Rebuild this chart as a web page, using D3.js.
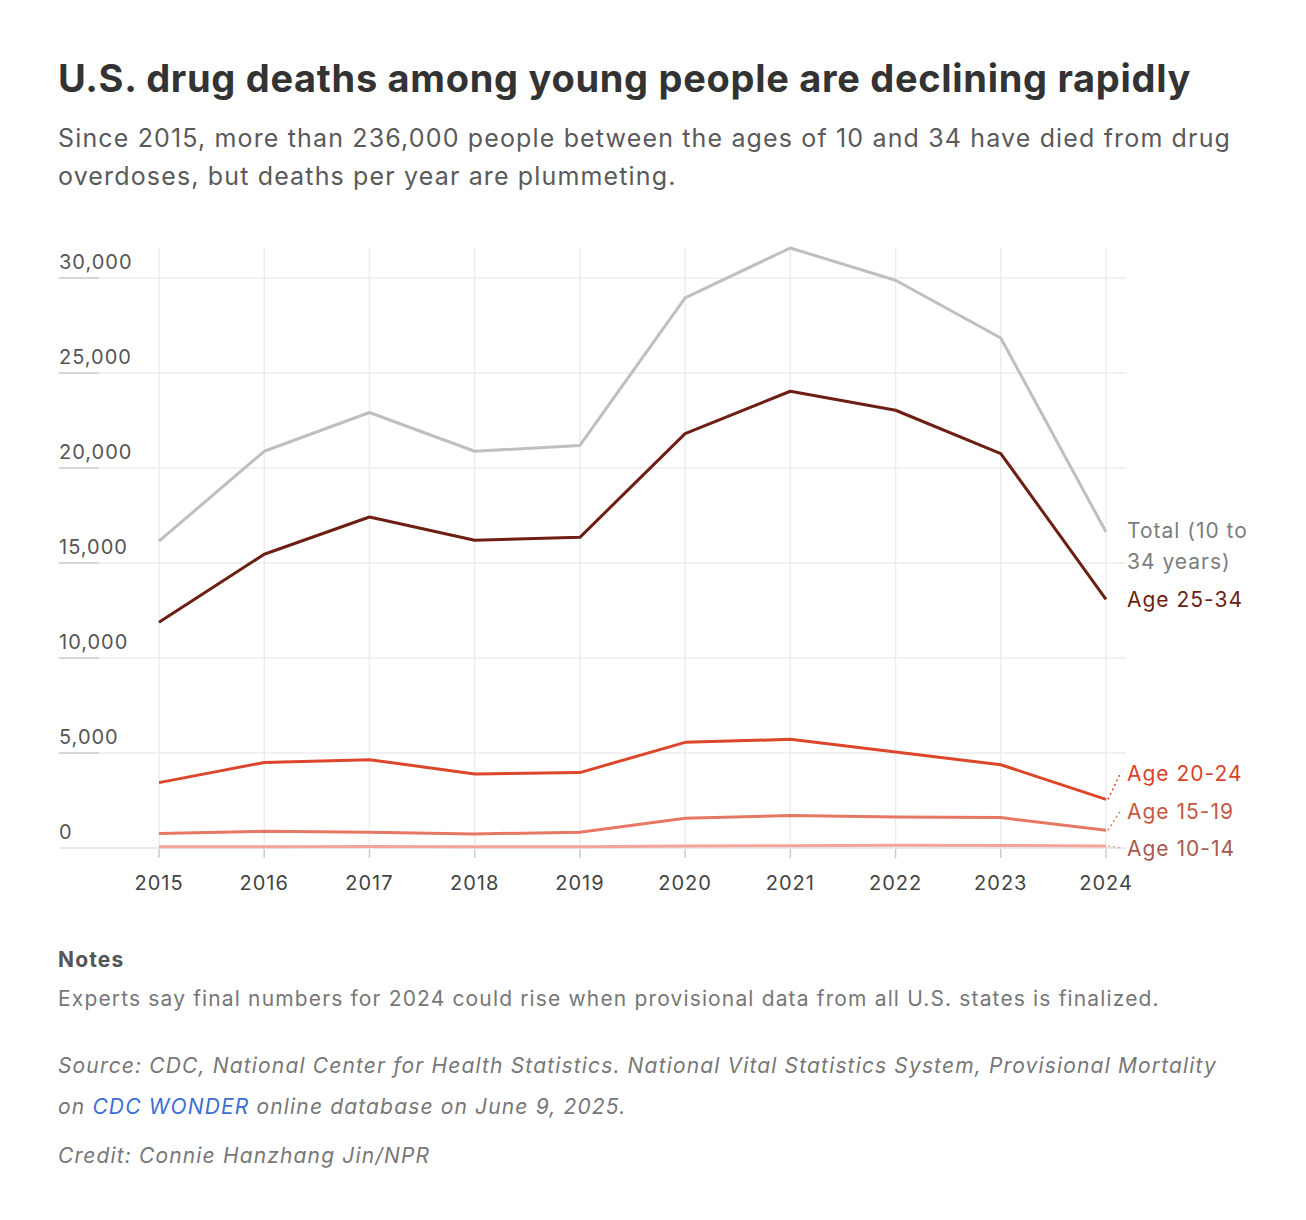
<!DOCTYPE html>
<html>
<head>
<meta charset="utf-8">
<script src="https://cdn.jsdelivr.net/npm/d3@7"></script>
<style>
  body { margin: 0; background: #fff; }
  svg text { font-family: Inter, "Noto Sans", sans-serif; }
</style>
</head>
<body>
<div id="chart"></div>
<script>
// data (deaths per year)
const years = [2015, 2016, 2017, 2018, 2019, 2020, 2021, 2022, 2023, 2024]
const total = [16150, 20880, 22920, 20880, 21190, 28950, 31580, 29880, 26840, 16630]
const age2534 = [11880, 15460, 17420, 16200, 16350, 21810, 24040, 23040, 20760, 13090]
const age2024 = [3440, 4500, 4650, 3900, 3970, 5560, 5720, 5050, 4380, 2560]
const age1519 = [760, 880, 830, 740, 830, 1560, 1710, 1630, 1600, 930]
const age1014 = [60, 70, 80, 70, 70, 100, 120, 150, 130, 100]
const yTicks = [0, 5000, 10000, 15000, 20000, 25000, 30000]

const series = [
    { name: 'total', values: total, color: '#bfbfbf', label: ['Total (10 to', '34 years)'], labelColor: '#7d7d7d' },
    { name: 'a2534', values: age2534, color: '#6c1f12', label: ['Age 25-34'], labelColor: '#6c1f12' },
    { name: 'a2024', values: age2024, color: '#dc472c', label: ['Age 20-24'], labelColor: '#d9432a' },
    { name: 'a1519', values: age1519, color: '#e57764', label: ['Age 15-19'], labelColor: '#c95644' },
    { name: 'a1014', values: age1014, color: '#f2a598', label: ['Age 10-14'], labelColor: '#a85a50' },
]

const width = 1306, height = 1220

const svg = d3.select('#chart').append('svg')
    .attr('width', width)
    .attr('height', height)

// title + subtitle
svg.append('text')
    .attr('x', 58).attr('y', 92)
    .style('font-size', '38px')
    .style('font-weight', 700)
    .style('letter-spacing', '0.7px')
    .style('fill', '#333')
    .text('U.S. drug deaths among young people are declining rapidly')

const sub = ['Since 2015, more than 236,000 people between the ages of 10 and 34 have died from drug',
    'overdoses, but deaths per year are plummeting.']
svg.selectAll('.sub')
    .data(sub)
    .enter().append('text')
    .attr('class', 'sub')
    .attr('x', 58)
    .attr('y', (d, i) => 147 + i * 38)
    .style('font-size', '25px')
    .style('letter-spacing', '1.15px')
    .style('fill', '#5a5a5a')
    .text(d => d)

// scales
const x = d3.scalePoint()
    .domain(years)
    .range([159, 1106])

const y = d3.scaleLinear()
    .domain([0, 30000])
    .range([848, 278])

const gridRight = 1126

// vertical grid
svg.append('g')
    .selectAll('line')
    .data(years)
    .enter().append('line')
    .attr('x1', d => x(d)).attr('x2', d => x(d))
    .attr('y1', y(31600)).attr('y2', y(0))
    .attr('stroke', '#ececec')
    .attr('stroke-width', 1.5)

// horizontal grid
const yg = svg.append('g')
yg.selectAll('line.grid')
    .data(yTicks)
    .enter().append('line')
    .attr('class', 'grid')
    .attr('x1', 59).attr('x2', gridRight)
    .attr('y1', d => y(d)).attr('y2', d => y(d))
    .attr('stroke', d => d === 0 ? '#e2e2e2' : '#ececec')
    .attr('stroke-width', 1.5)

// little dark underline below each tick label
yg.selectAll('line.under')
    .data(yTicks.filter(d => d > 0))
    .enter().append('line')
    .attr('class', 'under')
    .attr('x1', 59).attr('x2', 99)
    .attr('y1', d => y(d)).attr('y2', d => y(d))
    .attr('stroke', '#cccccc')
    .attr('stroke-width', 1.5)

yg.selectAll('text')
    .data(yTicks)
    .enter().append('text')
    .attr('x', 59)
    .attr('y', d => y(d) - 9)
    .style('font-size', '20px')
    .style('letter-spacing', '1px')
    .style('fill', '#555')
    .text(d => d3.format(',')(d))

// x axis ticks + labels
const xg = svg.append('g')
xg.selectAll('line')
    .data(years)
    .enter().append('line')
    .attr('x1', d => x(d)).attr('x2', d => x(d))
    .attr('y1', y(0) + 1).attr('y2', y(0) + 10)
    .attr('stroke', '#cccccc')
    .attr('stroke-width', 1.5)

xg.selectAll('text')
    .data(years)
    .enter().append('text')
    .attr('x', d => x(d))
    .attr('y', 890)
    .attr('text-anchor', 'middle')
    .style('font-size', '20px')
    .style('letter-spacing', '1px')
    .style('fill', '#444')
    .text(d => d)

// lines (draw bottom series first so darker ones sit on top)
const line = d3.line()
    .x((d, i) => x(years[i]))
    .y(d => y(d))

svg.append('g')
    .selectAll('path')
    .data(series.slice().reverse())
    .enter().append('path')
    .attr('d', d => line(d.values))
    .attr('fill', 'none')
    .attr('stroke', d => d.color)
    .attr('stroke-width', 3)
    .attr('stroke-linejoin', 'round')

// end labels
const labelX = 1127
const labelY = { total: 538, a2534: 607, a2024: 781, a1519: 819, a1014: 856 }

const lab = svg.append('g')
series.forEach((s) => {
    const t = lab.append('text')
        .attr('x', labelX)
        .attr('y', labelY[s.name])
        .style('font-size', '21px')
        .style('letter-spacing', '1px')
        .style('fill', s.labelColor)
    s.label.forEach((l, i) => {
        t.append('tspan')
            .attr('x', labelX)
            .attr('dy', i === 0 ? 0 : 31)
            .text(l)
    })
})

// dotted leaders for the crowded labels
const leaders = [
    { name: 'a2024', values: age2024, color: '#dc472c', ty: 772 },
    { name: 'a1519', values: age1519, color: '#e57764', ty: 810 },
    { name: 'a1014', values: age1014, color: '#f2a598', ty: 848 },
]
lab.selectAll('line')
    .data(leaders)
    .enter().append('line')
    .attr('x1', x(2024) + 2)
    .attr('y1', d => y(d.values[d.values.length - 1]))
    .attr('x2', labelX - 6)
    .attr('y2', d => d.ty)
    .attr('stroke', d => d.color)
    .attr('stroke-width', 1.5)
    .attr('stroke-dasharray', '2,3')

// notes + source
const foot = svg.append('g')
    .style('font-size', '21px')
    .style('letter-spacing', '1.15px')

foot.append('text')
    .attr('x', 58).attr('y', 967)
    .style('font-weight', 700)
    .style('fill', '#555')
    .text('Notes')

foot.append('text')
    .attr('x', 58).attr('y', 1006)
    .style('fill', '#777')
    .text('Experts say final numbers for 2024 could rise when provisional data from all U.S. states is finalized.')

foot.append('text')
    .attr('x', 58).attr('y', 1073)
    .style('font-style', 'italic')
    .style('fill', '#777')
    .text('Source: CDC, National Center for Health Statistics. National Vital Statistics System, Provisional Mortality')

const src2 = foot.append('text')
    .attr('x', 58).attr('y', 1114)
    .style('font-style', 'italic')
    .style('fill', '#777')
src2.append('tspan').text('on ')
src2.append('tspan').style('fill', '#3b6fd6').text('CDC WONDER')
src2.append('tspan').text(' online database on June 9, 2025.')

foot.append('text')
    .attr('x', 58).attr('y', 1163)
    .style('font-style', 'italic')
    .style('fill', '#777')
    .text('Credit: Connie Hanzhang Jin/NPR')
</script>
</body>
</html>
